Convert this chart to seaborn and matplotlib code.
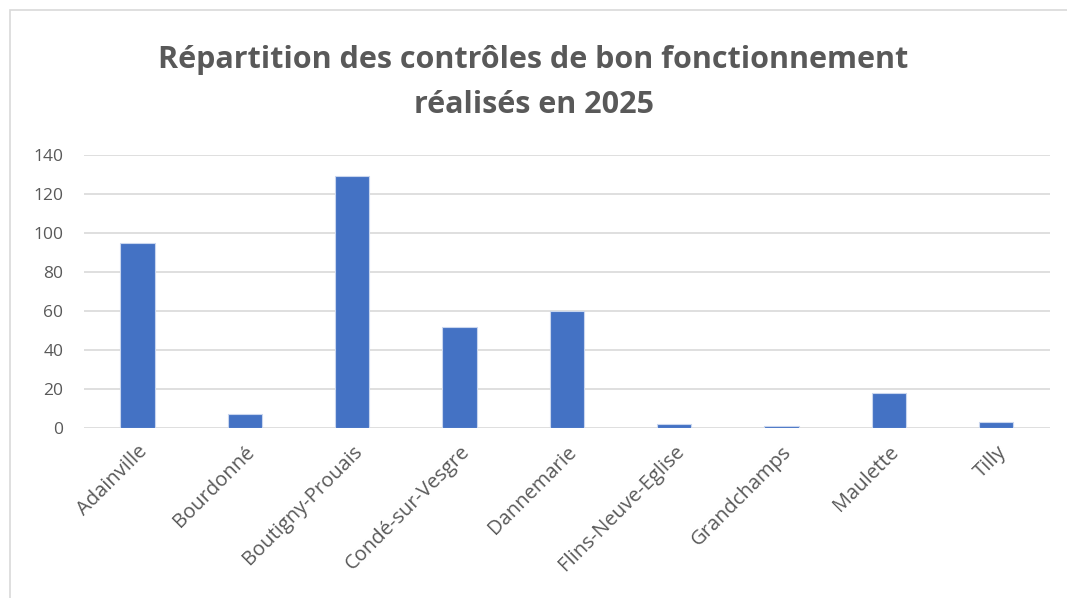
import pandas as pd
import seaborn as sns
import matplotlib.pyplot as plt
from matplotlib.patches import Rectangle

communes = ['Adainville', 'Bourdonné', 'Boutigny-Prouais', 'Condé-sur-Vesgre', 'Dannemarie',
            'Flins-Neuve-Eglise', 'Grandchamps', 'Maulette', 'Tilly']
controles = [95, 7, 129, 52, 60, 2, 1, 18, 3]
yticks = [0, 20, 40, 60, 80, 100, 120, 140]

df = pd.DataFrame({'Commune': communes, 'Controles': controles})

sns.set_style('white')
plt.rcParams['font.family'] = ['Open Sans', 'DejaVu Sans']

fig = plt.figure(figsize=(10.67, 5.98), dpi=100)
ax = fig.add_axes([0.0787, 0.2843, 0.9053, 0.4565])

sns.barplot(data=df, x='Commune', y='Controles', color='#4472C4', width=0.32,
            saturation=1, edgecolor='#C9D6EE', linewidth=0.8, ax=ax, zorder=3)

ax.set_ylim(0, 140)
ax.set_yticks(yticks)
ax.grid(axis='y', color='#D9D9D9', linewidth=1.2, zorder=0)
ax.set_xlim(-0.5, len(communes) - 0.5)
for s in ax.spines.values():
    s.set_visible(False)
ax.tick_params(axis='both', length=0, labelcolor='#595959')
ax.tick_params(axis='y', pad=15, labelsize=12.5)
ax.tick_params(axis='x', pad=10, labelsize=14.5)
plt.setp(ax.get_xticklabels(), rotation=45, ha='right', rotation_mode='anchor')
ax.set_xlabel('')
ax.set_ylabel('')

fig.text(0.5, 0.862, 'Répartition des contrôles de bon fonctionnement\nréalisés en 2025',
         ha='center', va='center', fontsize=22, fontweight='bold', color='#595959',
         linespacing=1.65)

fig.patches.append(Rectangle((10 / 1067, -0.01), 1.1, 1 - 10 / 598 + 0.01,
                             transform=fig.transFigure, fill=False,
                             edgecolor='#D9D9D9', linewidth=1.2))

plt.savefig('out.png', dpi=100)
